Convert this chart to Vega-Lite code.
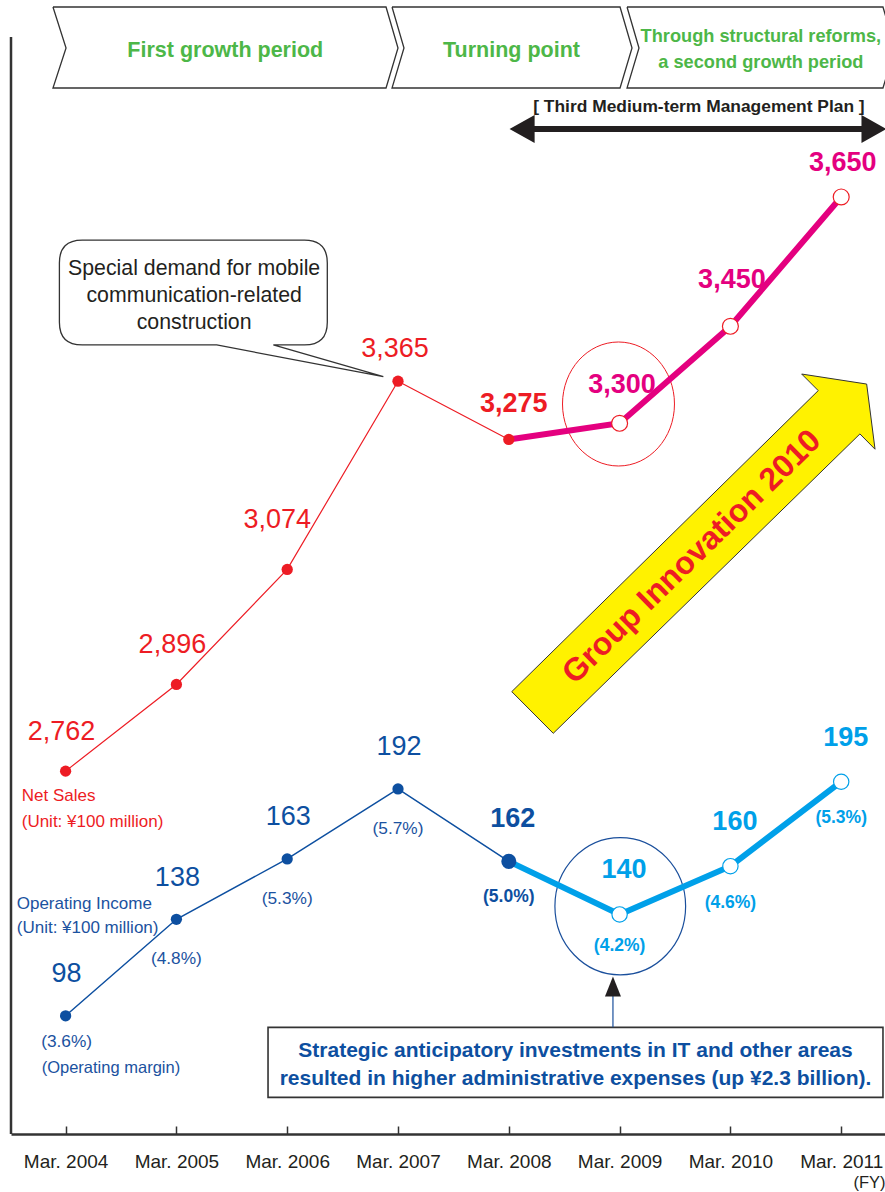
{
"$schema": "https://vega.github.io/schema/vega-lite/v6.json",
"width": 874,
"height": 1134,
"autosize": "none",
"padding": {"left": 11, "top": 0, "right": 0, "bottom": 58},
"background": "#ffffff",
"config": {"view": {"stroke": null}, "font": "Liberation Sans, Arial, sans-serif", "text": {"font": "Liberation Sans, Arial, sans-serif"}},
"datasets": {
"series": [
{"year": 2004, "ns": 2762, "oi": 98, "ml": "(3.6%)"},
{"year": 2005, "ns": 2896, "oi": 138, "ml": "(4.8%)"},
{"year": 2006, "ns": 3074, "oi": 163, "ml": "(5.3%)"},
{"year": 2007, "ns": 3365, "oi": 192, "ml": "(5.7%)"},
{"year": 2008, "ns": 3275, "oi": 162, "ml": "(5.0%)"},
{"year": 2009, "ns": 3300, "oi": 140, "ml": "(4.2%)"},
{"year": 2010, "ns": 3450, "oi": 160, "ml": "(4.6%)"},
{"year": 2011, "ns": 3650, "oi": 195, "ml": "(5.3%)"}
],
"chevrons": [
{"shape": "a", "i": 0, "year": 2003.886, "ns": 3943.8},
{"shape": "a", "i": 1, "year": 2006.892, "ns": 3943.8},
{"shape": "a", "i": 2, "year": 2007.0, "ns": 3880.4},
{"shape": "a", "i": 3, "year": 2006.892, "ns": 3818.5},
{"shape": "a", "i": 4, "year": 2003.886, "ns": 3818.5},
{"shape": "a", "i": 5, "year": 2004.004, "ns": 3880.4},
{"shape": "a", "i": 6, "year": 2003.886, "ns": 3943.8},
{"shape": "b", "i": 0, "year": 2006.946, "ns": 3943.8},
{"shape": "b", "i": 1, "year": 2009.004, "ns": 3943.8},
{"shape": "b", "i": 2, "year": 2009.112, "ns": 3880.4},
{"shape": "b", "i": 3, "year": 2009.004, "ns": 3818.5},
{"shape": "b", "i": 4, "year": 2006.946, "ns": 3818.5},
{"shape": "b", "i": 5, "year": 2007.054, "ns": 3880.4},
{"shape": "b", "i": 6, "year": 2006.946, "ns": 3943.8},
{"shape": "c", "i": 0, "year": 2009.067, "ns": 3943.8},
{"shape": "c", "i": 1, "year": 2011.377, "ns": 3943.8},
{"shape": "c", "i": 2, "year": 2011.486, "ns": 3880.4},
{"shape": "c", "i": 3, "year": 2011.377, "ns": 3818.5},
{"shape": "c", "i": 4, "year": 2009.067, "ns": 3818.5},
{"shape": "c", "i": 5, "year": 2009.175, "ns": 3880.4},
{"shape": "c", "i": 6, "year": 2009.067, "ns": 3943.8}
],
"nsNotes": [
{"role": "period", "year": 2005.441, "ns": 3866.4, "t": "First growth period"},
{"role": "period", "year": 2008.024, "ns": 3866.4, "t": "Turning point"},
{"role": "reform", "year": 2010.275, "ns": 3890.1, "t": "Through structural reforms,"},
{"role": "reform", "year": 2010.275, "ns": 3849.0, "t": "a second growth period"},
{"role": "plan", "year": 2009.716, "ns": 3781.8, "t": "[ Third Medium-term Management Plan ]"},
{"role": "callout", "year": 2005.16, "ns": 3529.3, "t": "Special demand for mobile"},
{"role": "callout", "year": 2005.16, "ns": 3488.0, "t": "communication-related"},
{"role": "callout", "year": 2005.16, "ns": 3445.3, "t": "construction"},
{"role": "title", "year": 2003.604, "ns": 2715.8, "t": "Net Sales"},
{"role": "title", "year": 2003.604, "ns": 2676.1, "t": "(Unit: ¥100 million)"}
],
"oiNotes": [
{"role": "title", "year": 2003.559, "oi": 142.1, "t": "Operating Income"},
{"role": "title", "year": 2003.559, "oi": 132.2, "t": "(Unit: ¥100 million)"},
{"role": "margin", "year": 2003.784, "oi": 74.2, "t": "(Operating margin)"},
{"role": "box", "year": 2008.602, "oi": 81.0, "t": "Strategic anticipatory investments in IT and other areas"},
{"role": "box", "year": 2008.602, "oi": 69.3, "t": "resulted in higher administrative expenses (up ¥2.3 billion)."}
]
},
"encoding": {
"x": {"field": "year", "type": "quantitative",
 "scale": {"domain": [2003.5072, 2011.3953], "nice": false, "zero": false},
 "axis": {"values": [2004, 2005, 2006, 2007, 2008, 2009, 2010, 2011], "labelExpr": "'Mar. ' + datum.value",
  "grid": false, "domainColor": "#333333", "domainWidth": 2.5, "tickColor": "#333333", "tickWidth": 1.5, "tickSize": -8,
  "labelPadding": 26, "labelFontSize": 19, "labelColor": "#231f20", "labelFlush": false, "labelOverlap": false, "labelBaseline": "top",
  "title": "(FY)", "titleAnchor": "end", "titleAlign": "right", "titleFontWeight": "normal", "titleFontSize": 16.5, "titleColor": "#231f20", "titlePadding": 3}}
},
"layer": [
{
"encoding": {"y": {"field": "ns", "type": "quantitative", "scale": {"domain": [2200.8, 3954.6], "nice": false, "zero": false}, "axis": null}},
"layer": [
{"data": {"name": "chevrons"}, "mark": {"type": "line", "color": "#333333", "strokeWidth": 1.3, "strokeJoin": "miter"},
 "encoding": {"detail": {"field": "shape", "type": "nominal"}, "order": {"field": "i", "type": "quantitative"}}},
{"data": {"name": "nsNotes"}, "transform": [{"filter": "datum.role === 'period'"}],
 "mark": {"type": "text", "fontSize": 21.5, "fontWeight": "bold", "color": "#4db748", "align": "center", "baseline": "alphabetic"},
 "encoding": {"text": {"field": "t"}}},
{"data": {"name": "nsNotes"}, "transform": [{"filter": "datum.role === 'reform'"}],
 "mark": {"type": "text", "fontSize": 18.2, "fontWeight": "bold", "color": "#4db748", "align": "center", "baseline": "alphabetic"},
 "encoding": {"text": {"field": "t"}}},
{"data": {"name": "nsNotes"}, "transform": [{"filter": "datum.role === 'plan'"}],
 "mark": {"type": "text", "fontSize": 17.4, "fontWeight": "bold", "color": "#231f20", "align": "center", "baseline": "alphabetic"},
 "encoding": {"text": {"field": "t"}}},
{"data": {"values": [{"year": 2009.708, "ns": 3755.1}]},
 "mark": {"type": "point", "shape": "M -1 0 L -0.867 -0.074 L -0.867 -0.016 L 0.867 -0.016 L 0.867 -0.074 L 1 0 L 0.867 0.074 L 0.867 0.016 L -0.867 0.016 L -0.867 0.074 Z", "size": 142129, "filled": true, "fill": "#231f20", "strokeWidth": 0, "opacity": 1}},
{"data": {"values": [{"year": 2003.5072, "ns": 3897.4, "ns2": 2200.8}]},
 "mark": {"type": "rule", "color": "#333333", "strokeWidth": 2.5},
 "encoding": {"y2": {"field": "ns2"}}},
{"data": {"values": [{"year": 2005.153, "ns": 3502.2}]},
 "mark": {"type": "point", "shape": "M -0.585 -0.276 L 0.585 -0.276 Q 0.705 -0.276 0.705 -0.156 L 0.705 0.156 Q 0.705 0.276 0.585 0.276 L 0.421 0.276 L 1 0.443 L 0.123 0.276 L -0.585 0.276 Q -0.705 0.276 -0.705 0.156 L -0.705 -0.156 Q -0.705 -0.276 -0.585 -0.276 Z", "size": 144400, "filled": true, "fill": "#ffffff", "stroke": "#333333", "strokeWidth": 1.3, "opacity": 1}},
{"data": {"name": "nsNotes"}, "transform": [{"filter": "datum.role === 'callout'"}],
 "mark": {"type": "text", "fontSize": 21.3, "color": "#231f20", "align": "center", "baseline": "alphabetic"},
 "encoding": {"text": {"field": "t"}}},
{"data": {"values": [{"year": 2008.99, "ns": 3329.8}]},
 "mark": {"type": "point", "shape": "M -0.903 0 A 0.903 1 0 1 0 0.903 0 A 0.903 1 0 1 0 -0.903 0 Z", "size": 15376, "filled": false, "stroke": "#ed1c24", "strokeWidth": 1, "opacity": 1}},
{"data": {"values": [{"year": 2009.666, "ns": 3098.3}]},
 "mark": {"type": "point", "shape": "M -0.998 0.758 L 0.686 -0.896 L 0.595 -0.987 L 0.952 -0.932 L 0.998 -0.574 L 0.915 -0.658 L -0.770 0.987 Z", "size": 132496, "filled": true, "fill": "#fff200", "stroke": "#333333", "strokeWidth": 1, "opacity": 1}},
{"data": {"values": [{"year": 2009.651, "ns": 3093.6}]},
 "mark": {"type": "text", "text": "Group Innovation 2010", "angle": 315.6, "fontSize": 32, "fontWeight": "bold", "color": "#ed1c24", "align": "center", "baseline": "middle"}},
{"data": {"name": "series"}, "transform": [{"filter": "datum.year <= 2008"}],
 "mark": {"type": "line", "color": "#ed1c24", "strokeWidth": 1.2}},
{"data": {"name": "series"}, "transform": [{"filter": "datum.year >= 2008"}],
 "mark": {"type": "line", "color": "#e4007f", "strokeWidth": 6}},
{"data": {"name": "series"}, "transform": [{"filter": "datum.year <= 2008"}],
 "mark": {"type": "point", "shape": "circle", "filled": true, "color": "#ed1c24", "size": 127, "opacity": 1}},
{"data": {"name": "series"}, "transform": [{"filter": "datum.year >= 2009"}],
 "mark": {"type": "point", "shape": "circle", "filled": true, "fill": "#ffffff", "stroke": "#ed1c24", "strokeWidth": 1.2, "size": 254, "opacity": 1}},
{"data": {"name": "series"}, "transform": [{"filter": {"field": "year", "oneOf": [2004, 2005]}}],
 "mark": {"type": "text", "fontSize": 27, "color": "#ed1c24", "align": "center", "baseline": "alphabetic", "dx": -4, "dy": -31},
 "encoding": {"text": {"field": "ns", "type": "quantitative", "format": ","}}},
{"data": {"name": "series"}, "transform": [{"filter": {"field": "year", "oneOf": [2006]}}],
 "mark": {"type": "text", "fontSize": 27, "color": "#ed1c24", "align": "center", "baseline": "alphabetic", "dx": -10, "dy": -41},
 "encoding": {"text": {"field": "ns", "type": "quantitative", "format": ","}}},
{"data": {"name": "series"}, "transform": [{"filter": {"field": "year", "oneOf": [2007]}}],
 "mark": {"type": "text", "fontSize": 27, "color": "#ed1c24", "align": "center", "baseline": "alphabetic", "dx": -3, "dy": -24},
 "encoding": {"text": {"field": "ns", "type": "quantitative", "format": ","}}},
{"data": {"name": "series"}, "transform": [{"filter": {"field": "year", "oneOf": [2008]}}],
 "mark": {"type": "text", "fontSize": 27, "fontWeight": "bold", "color": "#ed1c24", "align": "center", "baseline": "alphabetic", "dx": 5, "dy": -27},
 "encoding": {"text": {"field": "ns", "type": "quantitative", "format": ","}}},
{"data": {"name": "series"}, "transform": [{"filter": {"field": "year", "oneOf": [2009]}}],
 "mark": {"type": "text", "fontSize": 27, "fontWeight": "bold", "color": "#e4007f", "align": "center", "baseline": "alphabetic", "dx": 2.5, "dy": -30},
 "encoding": {"text": {"field": "ns", "type": "quantitative", "format": ","}}},
{"data": {"name": "series"}, "transform": [{"filter": {"field": "year", "oneOf": [2010]}}],
 "mark": {"type": "text", "fontSize": 27, "fontWeight": "bold", "color": "#e4007f", "align": "center", "baseline": "alphabetic", "dx": 1.5, "dy": -38.5},
 "encoding": {"text": {"field": "ns", "type": "quantitative", "format": ","}}},
{"data": {"name": "series"}, "transform": [{"filter": {"field": "year", "oneOf": [2011]}}],
 "mark": {"type": "text", "fontSize": 27, "fontWeight": "bold", "color": "#e4007f", "align": "center", "baseline": "alphabetic", "dx": 1.5, "dy": -26},
 "encoding": {"text": {"field": "ns", "type": "quantitative", "format": ","}}},
{"data": {"name": "nsNotes"}, "transform": [{"filter": "datum.role === 'title'"}],
 "mark": {"type": "text", "fontSize": 17, "color": "#ed1c24", "align": "left", "baseline": "alphabetic"},
 "encoding": {"text": {"field": "t"}}}
]
},
{
"encoding": {"y": {"field": "oi", "type": "quantitative", "scale": {"domain": [49.0, 519.0], "nice": false, "zero": false}, "axis": null}},
"layer": [
{"data": {"values": [{"year": 2009.006, "oi": 143.4}]},
 "mark": {"type": "point", "shape": "M -0.952 0 A 0.952 1 0 1 0 0.952 0 A 0.952 1 0 1 0 -0.952 0 Z", "size": 18851, "filled": false, "stroke": "#1a4f9c", "strokeWidth": 1.2, "opacity": 1}},
{"data": {"values": [{"year": 2005.827, "year2": 2011.377, "oi": 93.2, "oi2": 64.2}]},
 "mark": {"type": "rect", "fill": "#ffffff", "stroke": "#333333", "strokeWidth": 1.6},
 "encoding": {"x2": {"field": "year2"}, "y2": {"field": "oi2"}}},
{"data": {"name": "oiNotes"}, "transform": [{"filter": "datum.role === 'box'"}],
 "mark": {"type": "text", "fontSize": 21, "fontWeight": "bold", "color": "#0d4fa0", "align": "center", "baseline": "alphabetic"},
 "encoding": {"text": {"field": "t"}}},
{"data": {"values": [{"year": 2008.94, "oi": 106.2, "oi2": 93.2}]},
 "mark": {"type": "rule", "color": "#1a4f9c", "strokeWidth": 1.2},
 "encoding": {"y2": {"field": "oi2"}}},
{"data": {"values": [{"year": 2008.94, "oi": 110.1}]},
 "mark": {"type": "point", "shape": "M 0 -1 L 0.8 1 L -0.8 1 Z", "size": 400, "filled": true, "fill": "#231f20", "strokeWidth": 0, "opacity": 1}},
{"data": {"name": "series"}, "transform": [{"filter": "datum.year <= 2008"}],
 "mark": {"type": "line", "color": "#0d4fa0", "strokeWidth": 1.5}},
{"data": {"name": "series"}, "transform": [{"filter": "datum.year >= 2008"}],
 "mark": {"type": "line", "color": "#00a0e9", "strokeWidth": 6}},
{"data": {"name": "series"}, "transform": [{"filter": "datum.year <= 2007"}],
 "mark": {"type": "point", "shape": "circle", "filled": true, "color": "#0d4fa0", "size": 127, "opacity": 1}},
{"data": {"name": "series"}, "transform": [{"filter": "datum.year === 2008"}],
 "mark": {"type": "point", "shape": "circle", "filled": true, "color": "#0d4fa0", "size": 227, "opacity": 1}},
{"data": {"name": "series"}, "transform": [{"filter": "datum.year >= 2009"}],
 "mark": {"type": "point", "shape": "circle", "filled": true, "fill": "#ffffff", "stroke": "#00a0e9", "strokeWidth": 1.2, "size": 235, "opacity": 1}},
{"data": {"name": "series"}, "transform": [{"filter": "datum.year <= 2007"}],
 "mark": {"type": "text", "fontSize": 27, "color": "#0d4fa0", "align": "center", "baseline": "alphabetic", "dx": 1, "dy": -33.5},
 "encoding": {"text": {"field": "oi", "type": "quantitative", "format": "d"}}},
{"data": {"name": "series"}, "transform": [{"filter": "datum.year === 2008"}],
 "mark": {"type": "text", "fontSize": 27, "fontWeight": "bold", "color": "#0d4fa0", "align": "center", "baseline": "alphabetic", "dx": 4, "dy": -34},
 "encoding": {"text": {"field": "oi", "type": "quantitative", "format": "d"}}},
{"data": {"name": "series"}, "transform": [{"filter": "datum.year >= 2009"}],
 "mark": {"type": "text", "fontSize": 27, "fontWeight": "bold", "color": "#00a0e9", "align": "center", "baseline": "alphabetic", "dx": 4.5, "dy": -36},
 "encoding": {"text": {"field": "oi", "type": "quantitative", "format": "d"}}},
{"data": {"name": "series"}, "transform": [{"filter": "datum.year === 2004"}],
 "mark": {"type": "text", "fontSize": 17.3, "color": "#1b52a0", "align": "center", "baseline": "alphabetic", "dx": 1, "dy": 31},
 "encoding": {"text": {"field": "ml"}}},
{"data": {"name": "series"}, "transform": [{"filter": "datum.year >= 2005 && datum.year <= 2007"}],
 "mark": {"type": "text", "fontSize": 17.3, "color": "#1b52a0", "align": "center", "baseline": "alphabetic", "dx": 0, "dy": 45},
 "encoding": {"text": {"field": "ml"}}},
{"data": {"name": "series"}, "transform": [{"filter": "datum.year === 2008"}],
 "mark": {"type": "text", "fontSize": 17.5, "fontWeight": "bold", "color": "#0d4fa0", "align": "center", "baseline": "alphabetic", "dx": 0, "dy": 41},
 "encoding": {"text": {"field": "ml"}}},
{"data": {"name": "series"}, "transform": [{"filter": "datum.year === 2009"}],
 "mark": {"type": "text", "fontSize": 17.5, "fontWeight": "bold", "color": "#00a0e9", "align": "center", "baseline": "alphabetic", "dx": 0, "dy": 37},
 "encoding": {"text": {"field": "ml"}}},
{"data": {"name": "series"}, "transform": [{"filter": "datum.year >= 2010"}],
 "mark": {"type": "text", "fontSize": 17.5, "fontWeight": "bold", "color": "#00a0e9", "align": "center", "baseline": "alphabetic", "dx": 0, "dy": 41.5},
 "encoding": {"text": {"field": "ml"}}},
{"data": {"name": "oiNotes"}, "transform": [{"filter": "datum.role === 'title'"}],
 "mark": {"type": "text", "fontSize": 17, "color": "#1b52a0", "align": "left", "baseline": "alphabetic"},
 "encoding": {"text": {"field": "t"}}},
{"data": {"name": "oiNotes"}, "transform": [{"filter": "datum.role === 'margin'"}],
 "mark": {"type": "text", "fontSize": 16.5, "color": "#1b52a0", "align": "left", "baseline": "alphabetic"},
 "encoding": {"text": {"field": "t"}}}
]
}
],
"resolve": {"scale": {"y": "independent"}}
}
